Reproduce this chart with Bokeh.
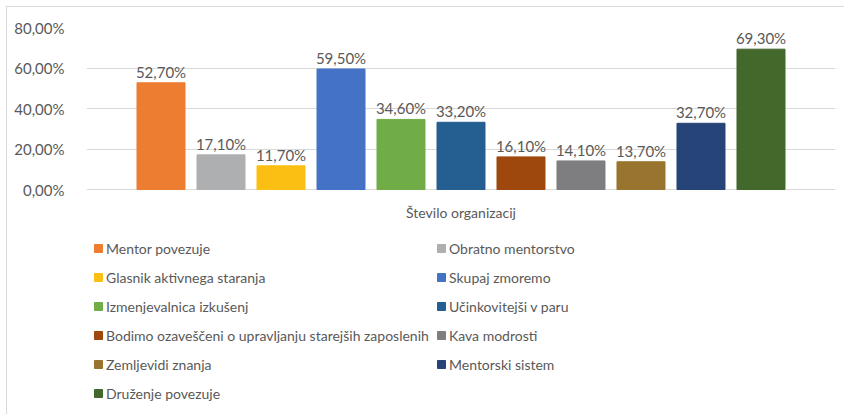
from bokeh.plotting import figure
from bokeh.models import Range1d, FixedTicker, Legend, LegendItem, ColumnDataSource
from bokeh.embed import file_html
from bokeh.resources import INLINE
from bokeh.core.properties import value

category = "Število organizacij"
series = [
    "Mentor povezuje",
    "Obratno mentorstvo",
    "Glasnik aktivnega staranja",
    "Skupaj zmoremo",
    "Izmenjevalnica izkušenj",
    "Učinkovitejši v paru",
    "Bodimo ozaveščeni o upravljanju starejših zaposlenih",
    "Kava modrosti",
    "Zemljevidi znanja",
    "Mentorski sistem",
    "Druženje povezuje",
]
values = [52.7, 17.1, 11.7, 59.5, 34.6, 33.2, 16.1, 14.1, 13.7, 32.7, 69.3]
colors = ["#ED7D31", "#AEAFB1", "#FBBF14", "#4472C4", "#70AD47", "#255E91",
          "#9E480E", "#7E7E80", "#99742E", "#264478", "#43682B"]
y_ticks = [0, 20, 40, 60, 80]
y_tick_labels = ["0,00%", "20,00%", "40,00%", "60,00%", "80,00%"]

FONT = "Lato"
TXT = "#595959"
GRID = "#D9D9D9"

labels = [("%.2f" % v).replace(".", ",") + "%" for v in values]
source = ColumnDataSource(dict(x=list(range(len(values))), top=values,
                               color=colors, name=series, label=labels))

# layout (pixels)
W, H = 838, 408
TOP, BOTTOM, LEFT, RIGHT = 20, 2, 79, 10
VALUE_PX = 162            # pixel height of the 0..80 value span
Y_MAX = 80
frame_h = H - TOP - BOTTOM
y_start = Y_MAX - frame_h * Y_MAX / VALUE_PX
n = len(values)
x_pad = 1.2417

p = figure(width=W, height=H, output_backend="svg", toolbar_location=None,
           x_range=Range1d(-x_pad, n - 1 + x_pad), y_range=Range1d(y_start, Y_MAX),
           min_border_left=LEFT, min_border_right=RIGHT,
           min_border_top=TOP, min_border_bottom=BOTTOM)
p.styles = {"margin-left": "6px", "margin-top": "6px",
            "border-left": "1px solid #D9D9D9", "border-top": "1px solid #D9D9D9"}

r = p.vbar(x="x", top="top", bottom=0, width=0.8, color="color", source=source)
p.text(x="x", y="top", text="label", source=source, text_align="center",
       text_baseline="alphabetic", y_offset=-11, text_font=value(FONT),
       text_font_size="15px", text_color=TXT)

# category label under the bars
p.text(x=[(n - 1) / 2], y=[0], text=[category], text_align="center",
       text_baseline="middle", y_offset=23, text_font=value(FONT),
       text_font_size="14px", text_color=TXT)

p.xaxis.visible = False

p.yaxis.ticker = FixedTicker(ticks=y_ticks)
p.yaxis.major_label_overrides = {t: l for t, l in zip(y_ticks, y_tick_labels)}
p.yaxis.axis_line_color = None
p.yaxis.major_tick_line_color = None
p.yaxis.minor_tick_line_color = None
p.yaxis.major_label_standoff = 16
p.yaxis.major_label_text_font = FONT
p.yaxis.major_label_text_font_size = "15px"
p.yaxis.major_label_text_color = TXT

p.xgrid.visible = False
p.ygrid.grid_line_color = GRID
p.outline_line_color = None

ROW_H, GAP = 20, 9
LEG_TOP = 231  # content y of the legend's top edge
leg_top_frame = (H - BOTTOM) - LEG_TOP


def make_legend(idx, x):
    k = len(idx)
    height = k * ROW_H + (k - 1) * GAP
    leg = Legend(items=[LegendItem(label=series[i], renderers=[r], index=i) for i in idx],
                 location=(x, leg_top_frame - height), orientation="vertical",
                 padding=0, margin=0, spacing=GAP, label_height=ROW_H,
                 glyph_width=10, glyph_height=10, label_standoff=3,
                 border_line_color=None, background_fill_alpha=0,
                 label_text_font=FONT, label_text_font_size="14px",
                 label_text_color=TXT)
    p.add_layout(leg)


make_legend([0, 2, 4, 6, 8, 10], 7)
make_legend([1, 3, 5, 7, 9], 350)

open("out.html", "w").write(file_html(p, INLINE))
